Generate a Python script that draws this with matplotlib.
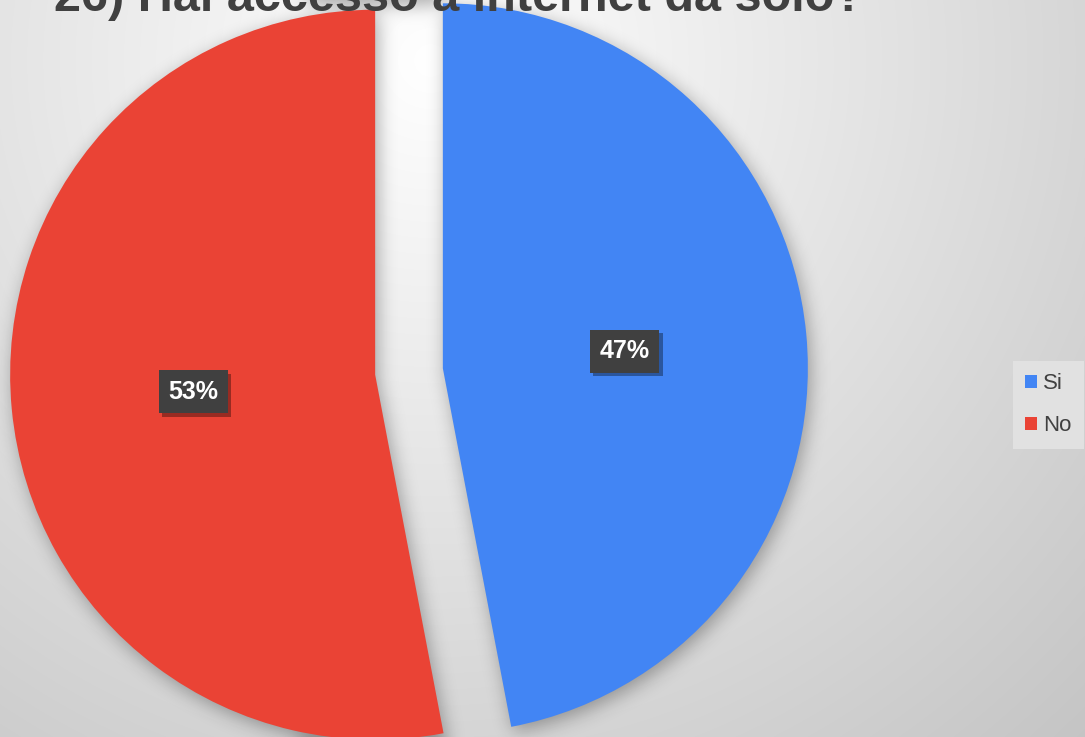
import numpy as np
import matplotlib
matplotlib.use("Agg")
import matplotlib.pyplot as plt
from matplotlib.patches import Patch
import matplotlib.patheffects as pe

# ---- data ----
title = "26) Hai accesso a internet da solo?"
labels = ["Si", "No"]
values = [47, 53]
colors = ["#4285F4", "#EA4335"]

W, H = 1085, 737
DPI = 100
plt.rcParams['font.family'] = ['Liberation Sans', 'DejaVu Sans']

fig = plt.figure(figsize=(W / DPI, H / DPI), dpi=DPI)
ax = fig.add_axes([0, 0, 1, 1])

# background radial gradient
yy, xx = np.mgrid[0:H, 0:W]
dist = np.sqrt((xx - 430.0) ** 2 + (yy - 60.0) ** 2)
g = np.clip(255 - 0.062 * dist, 0, 255) / 255.0
bg = np.dstack([g, g, g])
ax.imshow(bg, extent=(0, W, 0, H), origin='upper', zorder=0, aspect='auto')

radius = 365
center = (409, H - 371.5)
explode = [34, 34]

wedges, texts, autotexts = ax.pie(
    values, colors=colors, startangle=90, counterclock=False,
    explode=explode, radius=radius, center=center,
    autopct=lambda p: f"{p:.0f}%", pctdistance=0.5,
    wedgeprops=dict(linewidth=0, zorder=3),
    textprops=dict(color='white', fontsize=18, fontweight='bold'))

# soft shadow from wedge paths
pts = np.column_stack([xx.ravel() + 0.5, (H - yy.ravel() - 0.5)])
mask = np.zeros(H * W)
for w in wedges:
    path = w.get_path().transformed(w.get_patch_transform())
    mask = np.maximum(mask, path.contains_points(pts, radius=0).astype(float))
mask = mask.reshape(H, W)
sx, sy = 3, 5
mask = np.roll(np.roll(mask, sy, axis=0), sx, axis=1)

def blur1d(a, sigma, axis):
    r = int(3 * sigma)
    k = np.exp(-0.5 * (np.arange(-r, r + 1) / sigma) ** 2)
    k /= k.sum()
    return np.apply_along_axis(lambda m: np.convolve(np.pad(m, r, mode='edge'), k, mode='valid'), axis, a)

sh = blur1d(blur1d(mask, 9, 0), 9, 1)
shadow = np.zeros((H, W, 4))
shadow[..., 3] = sh * 0.32
ax.imshow(shadow, extent=(0, W, 0, H), origin='upper', zorder=1, aspect='auto')

for t in autotexts:
    t.set_zorder(6)
    t.set_bbox(dict(boxstyle='square,pad=0.38', facecolor='#404040', edgecolor='none'))
    t.get_bbox_patch().set_path_effects([
        pe.withSimplePatchShadow(offset=(2.5, -2.5), shadow_rgbFace='black', alpha=0.35)])

ax.text(459.5, H - 11, title, ha='center', va='baseline', fontsize=35,
        fontweight='bold', color='#404040', zorder=5)

handles = [Patch(facecolor=c, edgecolor='none') for c in colors]
leg = ax.legend(handles, labels, loc='upper left',
                bbox_to_anchor=(1013 / W, 1 - 361 / H), borderaxespad=0,
                fontsize=16, handlelength=0.55, handleheight=0.55,
                handletextpad=0.25, labelspacing=0.95, borderpad=0.55,
                frameon=True, fancybox=False, framealpha=1)
leg.get_frame().set_facecolor('#e1e1e1')
leg.get_frame().set_edgecolor('none')
for t in leg.get_texts():
    t.set_color('#404040')
leg.set_zorder(7)

ax.set_xlim(0, W)
ax.set_ylim(0, H)
ax.set_aspect('auto')
ax.axis('off')

fig.savefig("out.png", dpi=DPI)
